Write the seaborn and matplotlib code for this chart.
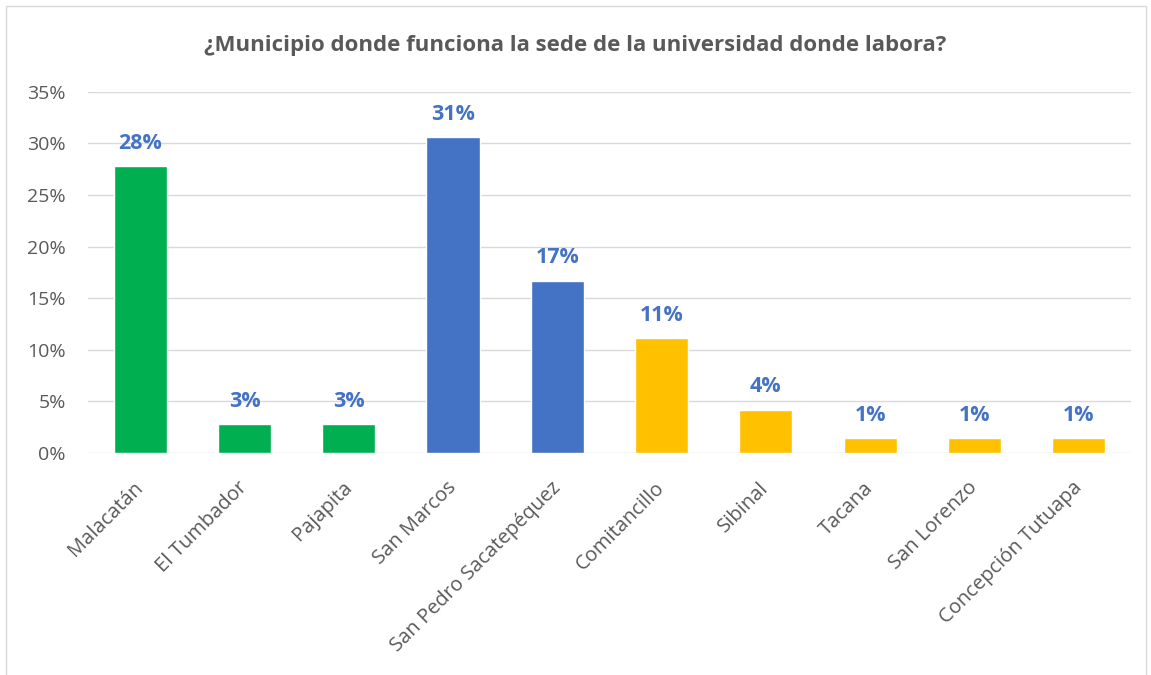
import pandas as pd
import seaborn as sns
import matplotlib.pyplot as plt
import matplotlib.transforms as mtransforms
from matplotlib.patches import Rectangle
from matplotlib.ticker import PercentFormatter

# Data
municipios = ["Malacatán", "El Tumbador", "Pajapita", "San Marcos", "San Pedro Sacatepéquez",
              "Comitancillo", "Sibinal", "Tacana", "San Lorenzo", "Concepción Tutuapa"]
porcentajes = [27.8, 2.8, 2.8, 30.6, 16.7, 11.1, 4.2, 1.4, 1.4, 1.4]
colores = ["#00B050", "#00B050", "#00B050", "#4472C4", "#4472C4",
           "#FFC000", "#FFC000", "#FFC000", "#FFC000", "#FFC000"]
yticks = [0, 5, 10, 15, 20, 25, 30, 35]

df = pd.DataFrame({"municipio": municipios, "pct": porcentajes})

sns.set_theme(style="white")
plt.rcParams["font.family"] = ["Open Sans", "DejaVu Sans"]

fig = plt.figure(figsize=(11.51, 6.75), dpi=100)
ax = fig.add_axes([0.0765, 0.329, 0.906, 0.535])

sns.barplot(data=df, x="municipio", y="pct", hue="municipio", palette=colores,
            legend=False, width=0.51, saturation=1, ax=ax)

ax.set_ylim(0, 35)
ax.set_xlim(-0.5, len(municipios) - 0.5)
ax.set_yticks(yticks)
ax.yaxis.set_major_formatter(PercentFormatter(decimals=0))
ax.grid(axis="y", color="#D9D9D9", linewidth=1)
ax.set_axisbelow(True)
for s in ax.spines.values():
    s.set_visible(False)
ax.set_xlabel("")
ax.set_ylabel("")
ax.tick_params(axis="y", labelsize=14, colors="#595959", length=0, pad=16)
ax.tick_params(axis="x", labelsize=14.5, colors="#595959", length=0, pad=18)

# rotated labels, nudged a bit left like the original
shift = mtransforms.ScaledTranslation(-7 / 100, 0, fig.dpi_scale_trans)
for lbl in ax.get_xticklabels():
    lbl.set_rotation(45)
    lbl.set_ha("right")
    lbl.set_va("top")
    lbl.set_rotation_mode("anchor")
    lbl.set_transform(lbl.get_transform() + shift)

for i, v in enumerate(porcentajes):
    ax.text(i, v + 1.2, f"{round(v):.0f}%", ha="center", va="bottom",
            fontsize=15.5, fontweight="bold", color="#4472C4")

fig.text(0.5, 0.933, "¿Municipio donde funciona la sede de la universidad donde labora?",
         ha="center", va="center", fontsize=16, fontweight="bold", color="#595959")

# chart border
fig.patches.append(Rectangle((6 / 1151, -0.01), 1140 / 1151, 1 - 6 / 675 + 0.01,
                             transform=fig.transFigure, fill=False,
                             edgecolor="#D9D9D9", linewidth=1))

fig.savefig("out.png", dpi=100)
